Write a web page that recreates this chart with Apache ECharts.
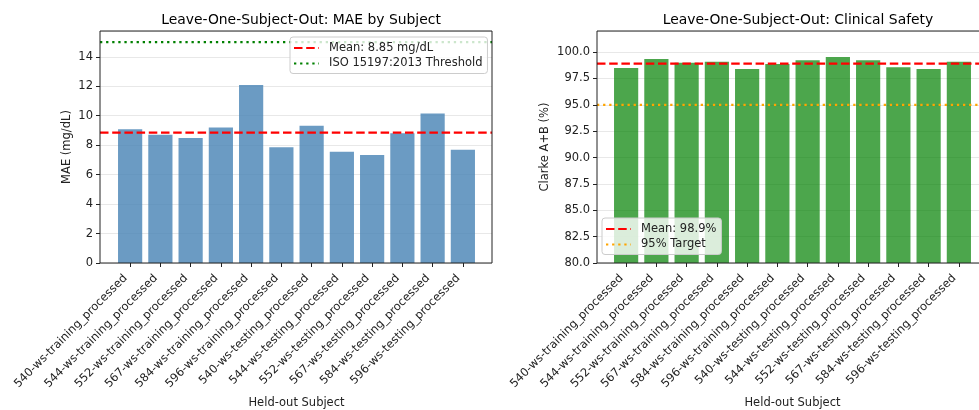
<!DOCTYPE html>
<html>
<head>
<meta charset="utf-8">
<script src="https://cdn.jsdelivr.net/npm/echarts@6/dist/echarts.min.js"></script>
<style>
  html, body { margin: 0; padding: 0; background: #fff; }
  #chart { width: 979px; height: 410px; }
</style>
</head>
<body>
<div id="chart"></div>
<script>
// Held-out subjects (leave-one-subject-out folds)
const subjects = [
  '540-ws-training_processed', '544-ws-training_processed', '552-ws-training_processed',
  '567-ws-training_processed', '584-ws-training_processed', '596-ws-training_processed',
  '540-ws-testing_processed', '544-ws-testing_processed', '552-ws-testing_processed',
  '567-ws-testing_processed', '584-ws-testing_processed', '596-ws-testing_processed'
];

// MAE per held-out subject (mg/dL)
const maeValues = [9.08, 8.70, 8.48, 9.20, 12.08, 7.85, 9.31, 7.55, 7.33, 8.80, 10.15, 7.68];
const maeMean = 8.85;
const isoThreshold = 15;
const maeTicks = { min: 0, max: 15.75, interval: 2 };

// Clarke error grid zone A+B share per held-out subject (%)
const clarkeValues = [98.49, 99.34, 98.99, 99.09, 98.40, 98.87, 99.22, 99.53, 99.22, 98.56, 98.40, 99.09];
const clarkeMean = 98.9;
const clarkeTarget = 95;
const clarkeTicks = { min: 80, max: 102, interval: 2.5 };

const FONT = 'DejaVu Sans';
const TXT = '#222';
const SZ = 11.5;

const chart = echarts.init(document.getElementById('chart'), null, { renderer: 'canvas' });

function frameGrid(left, right) {
  return { left: left, right: right, top: 31, bottom: 147, show: true, outerBoundsMode: 'none',
           borderColor: '#222', borderWidth: 1, backgroundColor: 'transparent', z: 5 };
}
function innerGrid(left, right) {
  return { left: left, right: right, top: 31, bottom: 147, show: false, outerBoundsMode: 'none' };
}
function frameX(gi) {
  return { gridIndex: gi, type: 'value', min: 0, max: 1, show: false };
}
function innerX(gi) {
  return {
    gridIndex: gi, type: 'category', data: subjects,
    axisLine: { show: false },
    axisTick: { show: true, alignWithLabel: true, length: 4, lineStyle: { color: '#222', width: 1 } },
    axisLabel: { interval: 0, rotate: 45, margin: 9, padding: [0, 6.5, 0, 0],
                 fontSize: SZ, fontFamily: FONT, color: TXT },
    name: 'Held-out Subject', nameLocation: 'middle', nameGap: 132,
    nameTextStyle: { fontSize: SZ, fontFamily: FONT, color: TXT }
  };
}
function frameY(gi, t, name, gap, digits) {
  return {
    gridIndex: gi, type: 'value', min: t.min, max: t.max, interval: t.interval,
    axisLine: { show: false },
    axisTick: { show: true, length: 4, lineStyle: { color: '#222', width: 1 } },
    axisLabel: { margin: 7, fontSize: SZ, fontFamily: FONT, color: TXT, showMaxLabel: false,
                 formatter: v => v.toFixed(digits) },
    splitLine: { show: true, lineStyle: { color: '#e8e8e8', width: 1 } },
    name: name, nameLocation: 'middle', nameGap: gap,
    nameTextStyle: { fontSize: SZ, fontFamily: FONT, color: TXT }
  };
}
function innerY(gi, t) {
  return { gridIndex: gi, type: 'value', min: t.min, max: t.max, show: false };
}
function refLine(name, gi, value, color, dash) {
  return {
    name: name, type: 'line', xAxisIndex: gi, yAxisIndex: gi,
    data: [[0, value], [1, value]], symbol: 'none', silent: true, z: 3,
    lineStyle: { color: color, width: 2.2, type: dash, cap: 'butt' },
    itemStyle: { color: color }
  };
}
function legendBox(left, top, names) {
  return {
    left: left, top: top, orient: 'vertical', data: names, selectedMode: false, z: 10,
    itemWidth: 25, itemHeight: 14, itemGap: 3.5, padding: [5, 5, 4, 3],
    backgroundColor: 'rgba(255,255,255,0.8)', borderColor: '#cccccc', borderWidth: 1, borderRadius: 3,
    itemStyle: { opacity: 0 },
    textStyle: { fontSize: SZ, fontFamily: FONT, color: TXT, padding: [0, 0, 0, 5] }
  };
}

const dashed = [8.5, 3.7];
const dotted = [2.3, 3.8];

chart.setOption({
  animation: false,
  backgroundColor: '#fff',
  title: [
    { text: 'Leave-One-Subject-Out: MAE by Subject', left: 296, top: 8, textAlign: 'center',
      textStyle: { fontSize: 13.9, fontWeight: 'normal', fontFamily: FONT, color: '#000' } },
    { text: 'Leave-One-Subject-Out: Clinical Safety', left: 793, top: 8, textAlign: 'center',
      textStyle: { fontSize: 13.9, fontWeight: 'normal', fontFamily: FONT, color: '#000' } }
  ],
  grid: [
    frameGrid(100, 487),
    innerGrid(115, 501),
    frameGrid(597, -10),
    innerGrid(611, 5)
  ],
  xAxis: [frameX(0), innerX(1), frameX(2), innerX(3)],
  yAxis: [
    frameY(0, maeTicks, 'MAE (mg/dL)', 27, 0),
    innerY(1, maeTicks),
    frameY(2, clarkeTicks, 'Clarke A+B (%)', 46, 1),
    innerY(3, clarkeTicks)
  ],
  legend: [
    legendBox(290, 37, ['Mean: 8.85 mg/dL', 'ISO 15197:2013 Threshold']),
    legendBox(602, 218, ['Mean: 98.9%', '95% Target'])
  ],
  series: [
    { name: 'MAE', type: 'bar', xAxisIndex: 1, yAxisIndex: 1, data: maeValues, barWidth: '80%', z: 2,
      itemStyle: { color: 'rgba(70,130,180,0.8)' } },
    refLine('Mean: 8.85 mg/dL', 0, maeMean, '#ff0000', dashed),
    refLine('ISO 15197:2013 Threshold', 0, isoThreshold, '#008000', dotted),
    { name: 'Clarke A+B', type: 'bar', xAxisIndex: 3, yAxisIndex: 3, data: clarkeValues, barWidth: '80%', z: 2,
      itemStyle: { color: 'rgba(0,128,0,0.7)' } },
    refLine('Mean: 98.9%', 2, clarkeMean, '#ff0000', dashed),
    refLine('95% Target', 2, clarkeTarget, '#ffa500', dotted)
  ]
});
</script>
</body>
</html>
